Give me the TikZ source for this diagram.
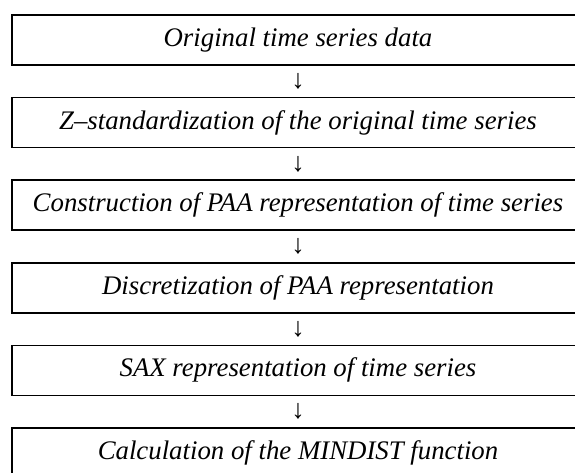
\documentclass[tikz,border=0pt]{standalone}
\usepackage{fontspec}
\setmainfont{Liberation Serif}
\usetikzlibrary{positioning}
\tikzset{
  stage/.style={draw,line width=1.5pt,minimum width=572pt,minimum height=50pt,inner sep=0pt,font=\fontsize{26.8}{31}\selectfont\itshape},
  down/.style={inner sep=0pt,font=\fontsize{26.8}{31}\selectfont}
}
\begin{document}
\begin{tikzpicture}[x=1pt,y=-1pt]
  \useasboundingbox (0,0) rectangle (575,473);
  \foreach \t [count=\i from 0] in {Original time series data,Z–standardization of the original time series,Construction of PAA representation of time series,Discretization of PAA representation,SAX representation of time series,Calculation of the MINDIST function}{
    \node[stage] (s\i) at (298,40+82.6*\i) {\t};
  }
  \foreach \i in {0,...,4}{\node[down] (a\i) at (298,81.3+82.6*\i) {↓};}
\end{tikzpicture}
\end{document}
